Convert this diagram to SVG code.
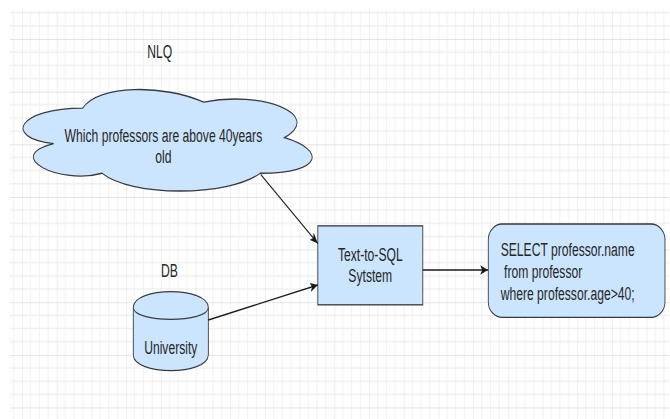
<svg xmlns="http://www.w3.org/2000/svg" width="670" height="419" viewBox="0 0 670 419">
  <style>
    .shape { fill: #cce5ff; stroke: #36393d; stroke-width: 1; }
    .lbl { font-family: "Liberation Sans", Arial, sans-serif; font-size: 14px; fill: #262626; }
    .mid { text-anchor: middle; }
    .edge { fill: none; stroke: #1a1a1a; stroke-width: 1.1; }
  </style>
  <defs>
    <pattern id="grid" patternUnits="userSpaceOnUse" x="0" y="0" width="40" height="40">
      <path d="M10,0 V40 M20,0 V40 M30,0 V40 M0,10 H40 M0,20 H40 M0,30 H40" fill="none" stroke="#efefef" stroke-width="1"/>
      <path d="M0,0 V40 M0,0 H40" fill="none" stroke="#dadada" stroke-width="1"/>
    </pattern>
    <marker id="arrow" viewBox="0 0 10 8" refX="10" refY="4" markerWidth="9" markerHeight="7.5" markerUnits="userSpaceOnUse" orient="auto">
      <path d="M0,0 L10,4 L0,8 L2.5,4 Z" fill="#1a1a1a"/>
    </marker>
  </defs>
  <rect x="0" y="0" width="670" height="419" fill="#ffffff"/>
  <g transform="matrix(0.8675 0 0 1.316 22 39)">
    <rect x="-13.8" y="-22" width="760" height="312" fill="url(#grid)"/>

    <g id="nlq-label">
      <text class="lbl mid" x="158.7" y="14.4">NLQ</text>
    </g>

    <g id="nlq-cloud">
      <path class="shape" d="M70,52.5 C-4.4,52.5 -23,75 36.5,79.5 C-23,89.4 44,111 92.3,102 C125.8,120 237.4,120 274.6,102 C349,102 349,84 302.5,75 C349,57 274.6,39 209.5,48 C163,34.5 88.6,34.5 70,52.5 Z"/>
      <text class="lbl mid" x="163" y="77.9">Which professors are above 40years</text>
      <text class="lbl mid" x="163" y="94.6">old</text>
    </g>

    <g id="db-label">
      <text class="lbl mid" x="170" y="180.5">DB</text>
    </g>

    <g id="db-cylinder">
      <path class="shape" d="M128.3,204 C128.3,188 214.8,188 214.8,204 L214.8,240 C214.8,256 128.3,256 128.3,240 Z"/>
      <path d="M128.3,204 C128.3,216 214.8,216 214.8,204" fill="none" stroke="#36393d" stroke-width="1"/>
      <text class="lbl mid" x="171.5" y="239.7">University</text>
    </g>

    <g id="text-to-sql">
      <rect class="shape" x="341" y="142" width="121" height="60"/>
      <text class="lbl mid" x="401.5" y="168.7">Text-to-SQL</text>
      <text class="lbl mid" x="401.5" y="185">Sytstem</text>
    </g>

    <g id="sql-output">
      <rect class="shape" x="537.5" y="140.6" width="203.7" height="71" rx="16" ry="12"/>
      <text class="lbl" x="551.8" y="164.9">SELECT professor.name</text>
      <text class="lbl" x="551.8" y="181.6" xml:space="preserve"> from professor</text>
      <text class="lbl" x="551.8" y="198.2">where professor.age&gt;40;</text>
    </g>

    <g id="connectors">
      <path class="edge" d="M275.2,103 L341,155.4" marker-end="url(#arrow)"/>
      <path class="edge" d="M214.8,213.5 L341,186.9" marker-end="url(#arrow)"/>
      <path class="edge" d="M462,175.5 L537.2,175.5" marker-end="url(#arrow)"/>
    </g>
  </g>
</svg>
